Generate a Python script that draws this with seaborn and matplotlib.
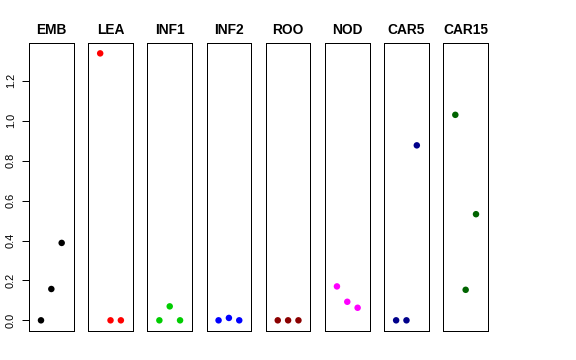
import matplotlib
matplotlib.use("Agg")
import matplotlib.pyplot as plt
import seaborn as sns
import pandas as pd

tissues = ["EMB", "LEA", "INF1", "INF2", "ROO", "NOD", "CAR5", "CAR15"]
colors = ["#000000", "#FF0000", "#00CD00", "#0000FF", "#8B0000", "#FF00FF", "#00008B", "#006400"]
positions = [1, 2, 3]
emb = [0.0, 0.157, 0.388]
lea = [1.338, 0.0, 0.0]
inf1 = [0.0, 0.07, 0.0]
inf2 = [0.0, 0.012, 0.0]
roo = [0.0, 0.0, 0.0]
nod = [0.17, 0.093, 0.063]
car5 = [0.0, 0.0, 0.877]
car15 = [1.03, 0.153, 0.532]
values = [emb, lea, inf1, inf2, roo, nod, car5, car15]
yticks = [0.0, 0.2, 0.4, 0.6, 0.8, 1.0, 1.2]

sns.set_style("white")
plt.rcParams["font.family"] = ["Liberation Sans", "DejaVu Sans"]
plt.rcParams["text.color"] = "black"
plt.rcParams["ytick.color"] = "black"

fig, axes = plt.subplots(1, 8, figsize=(8, 5), dpi=72, sharey=True)
fig.subplots_adjust(left=29/576, right=488/576, top=1-43/360, bottom=1-331/360, wspace=0.325)

for i, (ax, name, col, vals) in enumerate(zip(axes, tissues, colors, values)):
    df = pd.DataFrame({"x": positions, "y": vals})
    sns.scatterplot(data=df, x="x", y="y", ax=ax, color=col, s=42, edgecolor="none", linewidth=0)
    ax.set_xlim(-0.16, 4.16)
    ax.set_ylim(-0.0535, 1.39)
    ax.set_xticks([])
    ax.set_xlabel("")
    ax.set_ylabel("")
    ax.set_title(name, fontsize=13.8, fontweight="bold", pad=9, color="black")
    for sp in ax.spines.values():
        sp.set_visible(True)
        sp.set_color("black")
        sp.set_linewidth(1.0)
    if i == 0:
        ax.set_yticks(yticks)
        ax.set_yticklabels([f"{t:.1f}" for t in yticks], rotation=90, va="center", fontsize=11, color="black")
        ax.tick_params(axis="y", which="both", left=True, length=7, width=1, pad=6, colors="black")
    else:
        ax.tick_params(axis="y", left=False, labelleft=False)

fig.savefig("out.png", dpi=72, facecolor="white")
